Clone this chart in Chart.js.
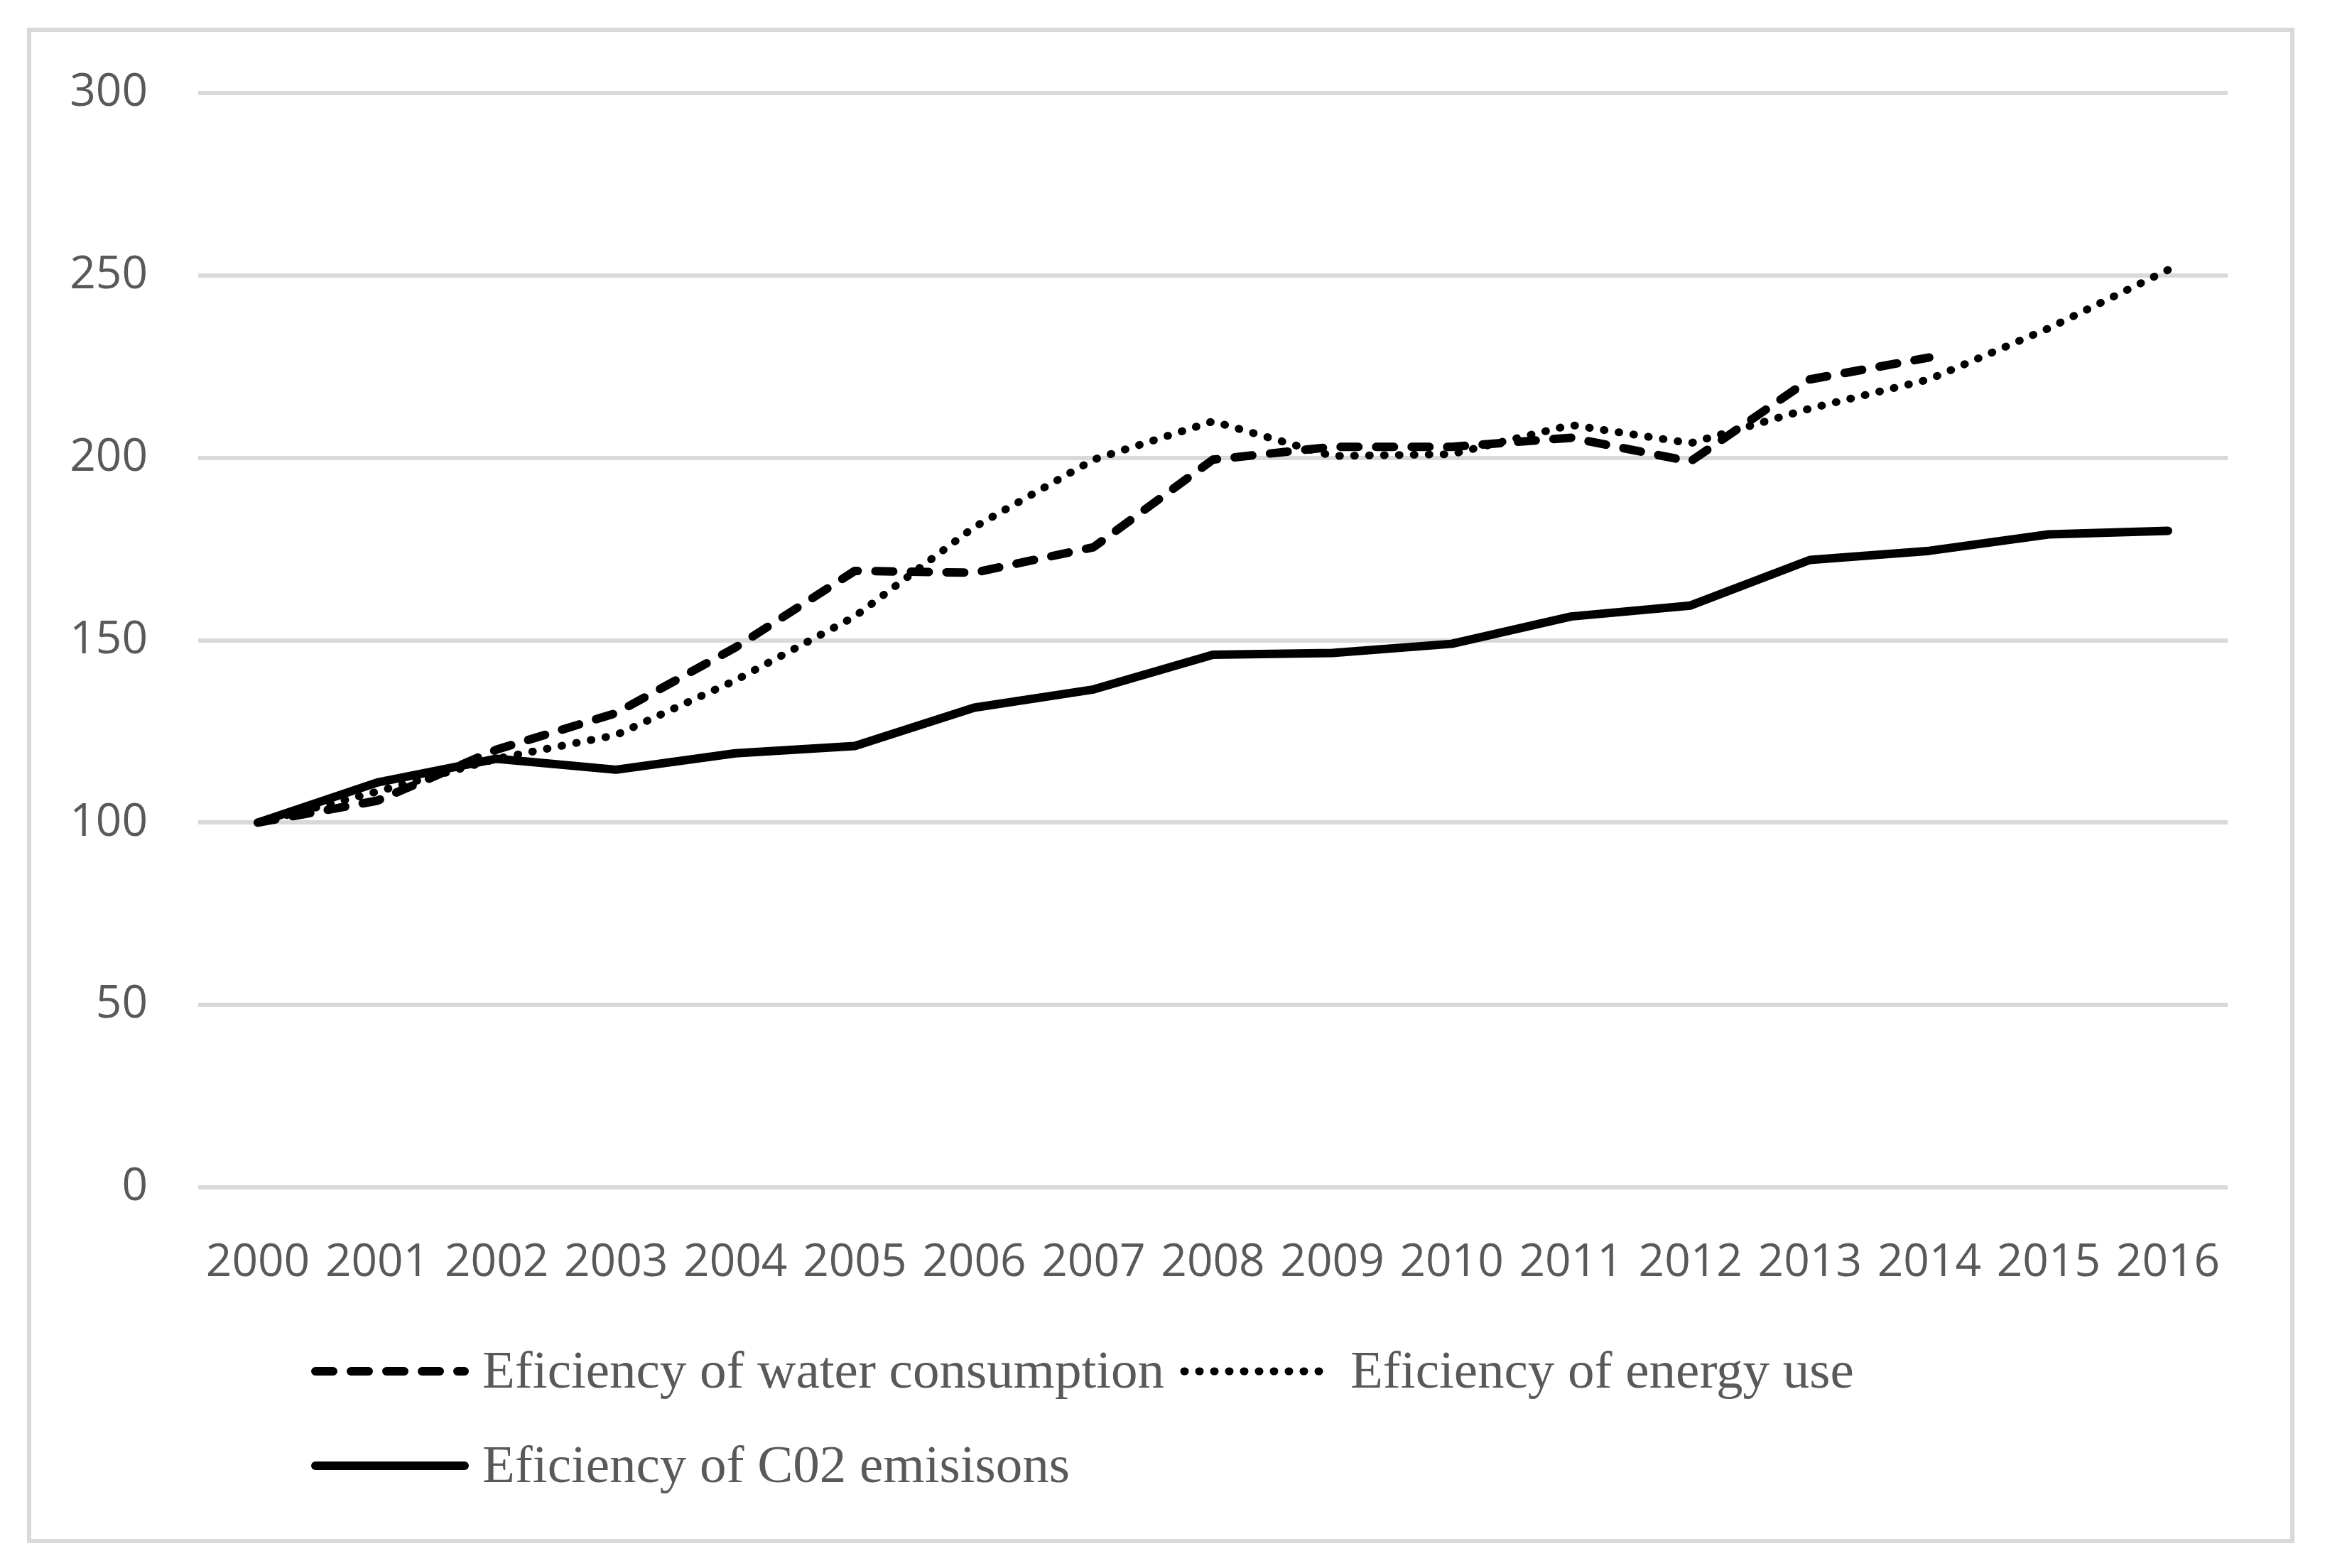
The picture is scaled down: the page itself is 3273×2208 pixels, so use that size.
<!DOCTYPE html>
<html>
<head>
<meta charset="utf-8">
<script src="https://cdn.jsdelivr.net/npm/chart.js@4.4.0/dist/chart.umd.min.js"></script>
<style>
  html, body { margin: 0; padding: 0; background: #ffffff; }
  #chart { display: block; }
</style>
</head>
<body>
<canvas id="chart" width="3273" height="2208" style="width:3273px;height:2208px"></canvas>
<script>
// Values (index = 100 in 2000)
const years = ['2000', '2001', '2002', '2003', '2004', '2005', '2006', '2007', '2008',
               '2009', '2010', '2011', '2012', '2013', '2014', '2015', '2016'];
const waterEfficiency = [100, 106, 120, 130, 148, 169, 168.5, 175.5, 199.5, 203, 203, 205.5, 199, 221.5, 227.5];
const energyEfficiency = [100, 108.5, 117.5, 124, 139, 156.5, 181, 199.5, 210, 200.5, 201, 209, 204, 213.5, 221.5, 235.5, 251.5];
const co2Efficiency = [100, 111, 117.5, 114.5, 119, 121, 131.5, 136.5, 146, 146.5, 149, 156.5, 159.5, 172, 174.5, 179, 180];
const yTicks = [0, 50, 100, 150, 200, 250, 300];

const seriesLabels = [
    'Eficiency of water consumption',
    'Eficiency of energy use',
    'Eficiency of C02 emisisons'
];

const TEXT_GREY = '#595959';
const LINE_GREY = '#d9d9d9';

// Light grey frame around the whole chart
const framePlugin = {
    id: 'frame',
    beforeDraw(chart) {
        const ctx = chart.ctx;
        ctx.save();
        ctx.strokeStyle = LINE_GREY;
        ctx.lineWidth = 6;
        ctx.strokeRect(41, 42, 3186, 2128);
        ctx.restore();
    }
};

// Excel style legend: two items on the first row, one on the second, left aligned
const legendPlugin = {
    id: 'excelLegend',
    afterDraw(chart) {
        const ctx = chart.ctx;
        const items = [
            { ds: 0, x1: 444, x2: 654, cy: 1931, tx: 679, base: 1954 },
            { ds: 1, x1: 1667, x2: 1857, cy: 1931, tx: 1901, base: 1954 },
            { ds: 2, x1: 444, x2: 654, cy: 2064, tx: 679, base: 2087 }
        ];
        items.forEach(it => {
            const d = chart.data.datasets[it.ds];
            ctx.save();
            ctx.strokeStyle = d.borderColor;
            ctx.lineWidth = d.borderWidth;
            ctx.lineCap = 'round';
            ctx.setLineDash(d.borderDash || []);
            ctx.beginPath();
            ctx.moveTo(it.x1, it.cy);
            ctx.lineTo(it.x2, it.cy);
            ctx.stroke();
            ctx.restore();

            ctx.save();
            ctx.fillStyle = TEXT_GREY;
            ctx.font = '75px "Liberation Serif", "Times New Roman", serif';
            ctx.textBaseline = 'alphabetic';
            ctx.textAlign = 'left';
            ctx.fillText(d.label, it.tx, it.base);
            ctx.restore();
        });
    }
};

const ctx = document.getElementById('chart');
new Chart(ctx, {
    type: 'line',
    data: {
        labels: years,
        datasets: [
            {
                label: seriesLabels[0],
                data: waterEfficiency,
                borderColor: '#000000',
                borderWidth: 12,
                borderDash: [25, 25],
                borderCapStyle: 'round',
                borderJoinStyle: 'round',
                pointRadius: 0,
                tension: 0,
                fill: false
            },
            {
                label: seriesLabels[1],
                data: energyEfficiency,
                borderColor: '#000000',
                borderWidth: 11,
                borderDash: [1, 20],
                borderCapStyle: 'round',
                borderJoinStyle: 'round',
                pointRadius: 0,
                tension: 0,
                fill: false
            },
            {
                label: seriesLabels[2],
                data: co2Efficiency,
                borderColor: '#000000',
                borderWidth: 12,
                borderCapStyle: 'round',
                borderJoinStyle: 'round',
                pointRadius: 0,
                tension: 0,
                fill: false
            }
        ]
    },
    options: {
        responsive: false,
        animation: false,
        devicePixelRatio: 1,
        layout: {
            padding: { left: 60, right: 137, top: 131, bottom: 356 }
        },
        plugins: {
            legend: { display: false },
            tooltip: { enabled: false }
        },
        scales: {
            x: {
                offset: true,
                grid: { display: false, drawTicks: false },
                border: { display: false },
                ticks: {
                    color: TEXT_GREY,
                    font: { family: '"Open Sans", sans-serif', size: 64 },
                    padding: 68,
                    autoSkip: false,
                    maxRotation: 0,
                    minRotation: 0
                },
                afterFit(scale) { scale.height = 180; }
            },
            y: {
                min: 0,
                max: 300,
                afterBuildTicks(scale) {
                    scale.ticks = yTicks.map(v => ({ value: v }));
                },
                grid: { color: LINE_GREY, lineWidth: 6, drawTicks: false },
                border: { display: false },
                ticks: {
                    color: TEXT_GREY,
                    font: { family: '"Open Sans", sans-serif', size: 64 },
                    padding: 71
                },
                afterFit(scale) { scale.width = 219; }
            }
        }
    },
    plugins: [framePlugin, legendPlugin]
});
</script>
</body>
</html>
